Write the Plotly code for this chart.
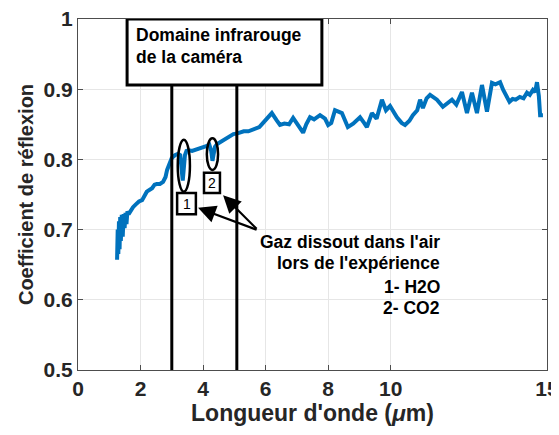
import plotly.graph_objects as go

# wavelength (um) and reflection coefficient
wavelength = [1.25, 1.27, 1.29, 1.31, 1.33, 1.35, 1.37, 1.40, 1.43, 1.46, 1.49, 1.52,
              1.55, 1.58, 1.62, 1.68, 1.76, 1.85, 1.95, 2.05, 2.2, 2.37, 2.45, 2.52,
              2.62, 2.72, 2.8, 2.85, 2.92, 3.0, 3.1, 3.2, 3.27, 3.31, 3.35, 3.38,
              3.42, 3.47, 3.55, 3.65, 3.8, 3.95, 4.1, 4.2, 4.26, 4.3, 4.34, 4.38,
              4.45, 4.6, 4.8, 4.97, 5.1, 5.3, 5.45, 5.6, 5.8, 5.92, 6.05, 6.2, 6.35,
              6.46, 6.6, 6.75, 6.88, 7.0, 7.2, 7.3, 7.42, 7.55, 7.74, 7.9, 8.0,
              8.1, 8.22, 8.44, 8.55, 8.63, 8.8, 9.02, 9.15, 9.24, 9.4, 9.55, 9.72,
              9.85, 9.98, 10.2, 10.35, 10.46, 10.6, 10.71, 10.85, 10.94, 11.03,
              11.15, 11.26, 11.48, 11.67, 11.8, 11.96, 12.1, 12.28, 12.44, 12.6,
              12.76, 12.92, 13.08, 13.24, 13.35, 13.5, 13.6, 13.7, 13.8, 13.9,
              14.0, 14.13, 14.25, 14.36, 14.45, 14.55, 14.62, 14.68, 14.74, 14.78,
              14.87]
reflection = [0.657, 0.700, 0.665, 0.712, 0.672, 0.718, 0.684, 0.721, 0.690, 0.722, 0.702, 0.724,
              0.708, 0.726, 0.722, 0.727, 0.732, 0.736, 0.740, 0.742, 0.754, 0.759, 0.764, 0.765,
              0.765, 0.768, 0.775, 0.785, 0.795, 0.802, 0.806, 0.808, 0.806, 0.790, 0.770, 0.785,
              0.806, 0.812, 0.813, 0.812, 0.814, 0.817, 0.819, 0.821, 0.812, 0.798, 0.808, 0.818,
              0.822, 0.826, 0.830, 0.836, 0.837, 0.840, 0.840, 0.843, 0.846, 0.852, 0.858, 0.866, 0.856,
              0.849, 0.851, 0.850, 0.859, 0.852, 0.838, 0.850, 0.860, 0.857, 0.863, 0.858, 0.849,
              0.852, 0.870, 0.866, 0.855, 0.846, 0.851, 0.860, 0.852, 0.846, 0.866, 0.858, 0.885,
              0.870, 0.876, 0.860, 0.852, 0.849, 0.855, 0.863, 0.870, 0.885, 0.873,
              0.887, 0.892, 0.885, 0.875, 0.880, 0.885, 0.878, 0.896, 0.866, 0.895,
              0.866, 0.906, 0.868, 0.909, 0.907, 0.910, 0.899, 0.890, 0.882, 0.886,
              0.885, 0.889, 0.887, 0.895, 0.892, 0.899, 0.896, 0.910, 0.890, 0.863,
              0.863]

x_ticks = [0, 2, 4, 6, 8, 10, 15]
y_ticks = [0.5, 0.6, 0.7, 0.8, 0.9, 1]
y_tick_text = ["0.5", "0.6", "0.7", "0.8", "0.9", "1"]

camera_band = [3.0, 5.08]
gas_labels = ["Gaz dissout dans l'air", "lors de l'expérience", "1- H2O", "2- CO2"]

FONT = "Liberation Sans, Arial, sans-serif"

fig = go.Figure()
fig.add_trace(go.Scatter(x=wavelength, y=reflection, mode="lines",
                         line=dict(color="#0072BD", width=4), showlegend=False))

# camera band: two vertical lines and the title box
for xb in camera_band:
    fig.add_shape(type="line", x0=xb, x1=xb, y0=0.5, y1=0.906,
                  line=dict(color="black", width=3))
fig.add_shape(type="rect", x0=1.57, x1=7.8, y0=0.906, y1=1.0,
              line=dict(color="black", width=3), fillcolor="white")
fig.add_annotation(x=1.8, y=0.977, text="Domaine infrarouge", showarrow=False,
                   xanchor="left", yanchor="middle",
                   font=dict(family=FONT, size=17.5, color="black", weight="bold"))
fig.add_annotation(x=1.8, y=0.946, text="de la caméra", showarrow=False,
                   xanchor="left", yanchor="middle",
                   font=dict(family=FONT, size=17.5, color="black", weight="bold"))

# absorption dips: ellipses and numbered boxes
fig.add_shape(type="circle", x0=3.19, x1=3.58, y0=0.754, y1=0.828,
              line=dict(color="black", width=2.5))
fig.add_shape(type="circle", x0=4.12, x1=4.48, y0=0.785, y1=0.830,
              line=dict(color="black", width=2.5))
fig.add_shape(type="rect", x0=3.17, x1=3.77, y0=0.722, y1=0.752,
              line=dict(color="black", width=2.5), fillcolor="white")
fig.add_shape(type="rect", x0=4.03, x1=4.54, y0=0.752, y1=0.781,
              line=dict(color="black", width=2.5), fillcolor="white")
fig.add_annotation(x=3.47, y=0.737, text="1", showarrow=False,
                   font=dict(family=FONT, size=14, color="black"))
fig.add_annotation(x=4.285, y=0.7665, text="2", showarrow=False,
                   font=dict(family=FONT, size=14, color="black"))

# arrows from the note to the boxes
for tx, ty in [(3.84, 0.731), (4.64, 0.749)]:
    fig.add_annotation(x=tx, y=ty, ax=5.76, ay=0.699, axref="x", ayref="y",
                       text="", showarrow=True, arrowhead=2, arrowsize=1.6,
                       arrowwidth=2.2, arrowcolor="black")

for lbl, yy in zip(gas_labels, [0.682, 0.652, 0.618, 0.588]):
    fig.add_annotation(x=11.64, y=yy, text=lbl, showarrow=False,
                       xanchor="right", yanchor="middle",
                       font=dict(family=FONT, size=17.5, color="black", weight="bold"))

axis_common = dict(showgrid=True, gridcolor="#e6e6e6", gridwidth=1,
                   showline=True, linecolor="#4d4d4d", linewidth=1, mirror="ticks",
                   ticks="inside", ticklen=5, tickcolor="#4d4d4d", zeroline=False,
                   automargin=False, ticklabeloverflow="allow",
                   tickfont=dict(family=FONT, size=21, color="#262626", weight="bold"))

fig.update_xaxes(range=[0, 15], tickvals=x_ticks,
                 title=dict(text="Longueur d'onde (<i>μ</i>m)", standoff=4,
                            font=dict(family=FONT, size=23, color="#262626", weight="bold")),
                 **axis_common)
fig.update_yaxes(range=[0.5, 1.0], tickvals=y_ticks, ticktext=y_tick_text,
                 title=dict(text="Coefficient de réflexion", standoff=4,
                            font=dict(family=FONT, size=20, color="#262626", weight="bold")),
                 **axis_common)

# the page body adds an 8px offset, so the figure is 8px smaller than the window
fig.update_layout(width=551, height=427, plot_bgcolor="white", paper_bgcolor="white",
                  margin=dict(l=70, r=12, t=11, b=65), showlegend=False)

fig.write_html("out.html")
